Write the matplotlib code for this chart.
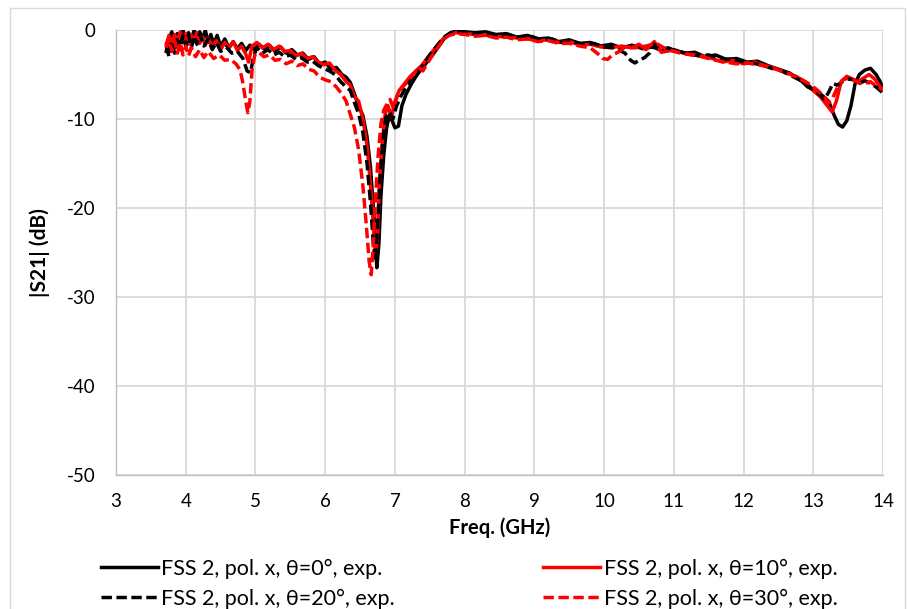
import matplotlib
matplotlib.use("Agg")
import matplotlib.pyplot as plt
from matplotlib.patches import Rectangle

plt.rcParams['font.family'] = ['Lato', 'DejaVu Sans']
plt.rcParams['axes.unicode_minus'] = False

# Measured transmission |S21| (dB) versus frequency (GHz)
freq_0 = [3.72, 3.76, 3.80, 3.84, 3.88, 3.92, 3.96, 4.00, 4.04, 4.08, 4.12, 4.16, 4.20, 4.24,
          4.28, 4.32, 4.36, 4.40, 4.45, 4.50, 4.56, 4.62, 4.68, 4.74, 4.80, 4.86, 4.92, 4.98,
          5.05, 5.12, 5.20, 5.28, 5.36, 5.44, 5.52, 5.60, 5.68, 5.76, 5.84, 5.92, 6.00, 6.08,
          6.16, 6.24, 6.30, 6.36, 6.42, 6.48, 6.54, 6.60, 6.65, 6.70, 6.74, 6.77, 6.80, 6.84,
          6.88, 6.92, 6.96, 7.00, 7.05, 7.10, 7.16, 7.24, 7.32, 7.40, 7.48, 7.56, 7.64, 7.72,
          7.80, 7.90, 8.00, 8.15, 8.30, 8.45, 8.60, 8.75, 8.90, 9.05, 9.20, 9.35, 9.50, 9.65,
          9.80, 9.95, 10.10, 10.25, 10.40, 10.55, 10.70, 10.85, 11.00, 11.15, 11.30, 11.45,
          11.60, 11.75, 11.90, 12.05, 12.20, 12.35, 12.50, 12.65, 12.80, 12.92, 13.02, 13.12,
          13.22, 13.30, 13.36, 13.42, 13.48, 13.54, 13.60, 13.66, 13.74, 13.82, 13.90, 13.96, 14.00]
s21_0 = [-2.4, -1.0, -0.2, -1.6, -0.4, -1.2, 0.0, -1.4, -0.3, -1.1, 0.0, -1.3, -0.2, -1.0,
         0.0, -1.4, -0.5, -1.6, -0.6, -1.8, -1.0, -2.0, -1.3, -2.1, -1.5, -2.3, -1.7, -2.2,
         -1.6, -2.1, -1.7, -2.4, -1.9, -2.6, -2.2, -2.8, -2.6, -3.3, -3.0, -3.8, -3.6, -4.4,
         -4.2, -5.0, -5.3, -5.9, -7.2, -8.6, -9.6, -12.0, -15.5, -21.0, -26.7, -24.0, -18.5, -14.0,
         -11.0, -9.6, -10.2, -11.0, -10.8, -8.5, -7.2, -6.0, -5.0, -4.2, -3.4, -2.6, -1.7, -0.8,
         -0.3, -0.1, -0.2, -0.3, -0.2, -0.5, -0.4, -0.8, -0.6, -1.0, -0.9, -1.3, -1.1, -1.5,
         -1.4, -1.8, -1.6, -2.0, -1.7, -2.1, -1.9, -2.4, -2.2, -2.6, -2.5, -3.0,
         -2.8, -3.3, -3.2, -3.6, -3.5, -4.0, -4.4, -4.8, -5.5, -6.4, -6.8, -7.3,
         -8.0, -9.6, -10.6, -10.9, -10.2, -8.5, -6.0, -5.0, -4.5, -4.3, -5.0, -5.8, -6.6]

freq_10 = [3.72, 3.76, 3.80, 3.84, 3.88, 3.92, 3.96, 4.00, 4.04, 4.08, 4.12, 4.16, 4.20, 4.24,
           4.28, 4.32, 4.38, 4.44, 4.50, 4.56, 4.62, 4.68, 4.74, 4.80, 4.86, 4.90, 4.95, 5.02,
           5.10, 5.18, 5.26, 5.34, 5.42, 5.50, 5.58, 5.66, 5.74, 5.82, 5.90, 5.98, 6.06, 6.14,
           6.22, 6.30, 6.36, 6.42, 6.48, 6.54, 6.60, 6.65, 6.69, 6.72, 6.75, 6.78, 6.82, 6.86,
           6.90, 6.95, 7.00, 7.06, 7.14, 7.22, 7.30, 7.38, 7.46, 7.54, 7.62, 7.70, 7.78, 7.88,
           8.00, 8.15, 8.30, 8.45, 8.60, 8.75, 8.90, 9.05, 9.20, 9.35, 9.50, 9.65, 9.80, 9.95,
           10.10, 10.25, 10.40, 10.50, 10.60, 10.72, 10.82, 10.95, 11.10, 11.25, 11.40, 11.55,
           11.70, 11.85, 12.00, 12.15, 12.30, 12.45, 12.60, 12.75, 12.90, 13.00, 13.10, 13.20,
           13.27, 13.33, 13.40, 13.48, 13.56, 13.64, 13.72, 13.80, 13.88, 13.95, 14.00]
s21_10 = [-1.6, -0.6, -1.8, -0.5, -1.4, -0.2, -1.1, -0.4, -1.6, -0.6, -1.2, -0.3, -1.5, -0.8,
          -1.7, -0.9, -1.9, -1.2, -2.2, -1.4, -2.0, -1.3, -2.3, -1.8, -2.7, -3.6, -1.8, -1.4,
          -2.0, -1.6, -2.2, -1.8, -2.4, -2.3, -2.9, -2.6, -3.2, -3.0, -3.6, -3.9, -3.7, -4.5,
          -5.0, -5.8, -6.2, -7.5, -8.0, -10.0, -13.0, -17.5, -22.0, -25.5, -23.0, -17.0, -12.5, -9.5,
          -8.5, -9.8, -8.0, -6.8, -6.0, -5.2, -4.6, -4.0, -3.2, -2.4, -1.6, -0.9, -0.5, -0.3,
          -0.4, -0.5, -0.6, -0.7, -0.8, -0.9, -1.0, -1.2, -1.1, -1.4, -1.3, -1.7, -1.6, -1.9,
          -2.0, -1.8, -2.0, -1.6, -2.2, -1.3, -2.5, -2.3, -2.5, -2.8, -2.9, -3.2,
          -3.6, -3.4, -3.8, -3.6, -4.0, -4.3, -4.8, -5.2, -5.9, -6.8, -7.5, -8.5,
          -9.2, -8.0, -5.8, -5.2, -5.5, -5.8, -5.4, -5.0, -5.5, -6.3, -6.7]

freq_20 = [3.72, 3.76, 3.80, 3.84, 3.88, 3.92, 3.96, 4.00, 4.04, 4.08, 4.12, 4.16, 4.20, 4.26,
           4.32, 4.38, 4.44, 4.50, 4.58, 4.66, 4.74, 4.82, 4.88, 4.93, 4.97, 5.02, 5.10, 5.18,
           5.26, 5.34, 5.42, 5.50, 5.58, 5.66, 5.74, 5.82, 5.90, 5.98, 6.06, 6.14, 6.22, 6.30,
           6.36, 6.42, 6.48, 6.54, 6.60, 6.65, 6.69, 6.72, 6.75, 6.79, 6.83, 6.87, 6.92, 6.97,
           7.02, 7.08, 7.16, 7.24, 7.32, 7.40, 7.48, 7.56, 7.64, 7.72, 7.80, 7.90, 8.05, 8.20,
           8.35, 8.50, 8.65, 8.80, 8.95, 9.10, 9.25, 9.40, 9.55, 9.70, 9.85, 10.00, 10.15, 10.30,
           10.38, 10.44, 10.50, 10.58, 10.65, 10.72, 10.80, 10.92, 11.05, 11.20, 11.35, 11.50,
           11.65, 11.80, 11.95, 12.10, 12.25, 12.40, 12.55, 12.70, 12.85, 12.98, 13.08, 13.16,
           13.22, 13.28, 13.34, 13.42, 13.50, 13.58, 13.66, 13.74, 13.82, 13.90, 13.96, 14.00]
s21_20 = [-1.8, -3.0, -1.2, -2.6, -0.8, -2.2, -0.6, -1.8, -0.5, -2.0, -0.7, -1.6, -0.4, -1.8,
          -1.0, -2.2, -1.4, -2.4, -1.9, -2.6, -2.4, -3.2, -4.6, -4.8, -3.0, -2.0, -2.6, -2.2,
          -2.8, -2.5, -3.0, -2.8, -3.3, -3.1, -3.6, -3.5, -4.0, -4.3, -4.6, -5.0, -5.8, -6.4,
          -6.8, -8.2, -9.4, -11.5, -15.0, -19.5, -24.0, -26.0, -22.0, -16.0, -12.0, -9.8, -9.2, -10.0,
          -8.6, -7.5, -6.4, -5.5, -4.8, -4.0, -3.0, -2.2, -1.4, -0.7, -0.3, -0.2, -0.3, -0.5,
          -0.4, -0.7, -0.6, -0.9, -0.7, -1.1, -1.0, -1.4, -1.3, -1.6, -1.5, -1.9, -2.0, -2.6,
          -3.4, -3.7, -3.4, -3.1, -2.6, -1.6, -2.2, -2.0, -2.4, -2.6, -2.9, -2.8,
          -3.2, -3.3, -3.5, -3.7, -3.9, -4.3, -4.6, -5.2, -5.8, -6.6, -7.2, -7.8,
          -7.0, -6.0, -6.2, -5.8, -5.5, -5.6, -6.0, -5.7, -6.0, -6.4, -6.8, -7.1]

freq_30 = [3.72, 3.76, 3.80, 3.84, 3.88, 3.92, 3.96, 4.00, 4.04, 4.08, 4.14, 4.20, 4.26, 4.32,
           4.40, 4.48, 4.56, 4.64, 4.72, 4.78, 4.82, 4.86, 4.89, 4.92, 4.95, 4.99, 5.05, 5.12,
           5.20, 5.28, 5.36, 5.44, 5.52, 5.60, 5.68, 5.76, 5.84, 5.92, 6.00, 6.08, 6.16, 6.24,
           6.30, 6.36, 6.42, 6.48, 6.54, 6.59, 6.63, 6.66, 6.69, 6.72, 6.76, 6.80, 6.84, 6.88,
           6.93, 6.98, 7.03, 7.10, 7.18, 7.26, 7.34, 7.40, 7.46, 7.54, 7.62, 7.70, 7.78, 7.88,
           8.00, 8.15, 8.30, 8.45, 8.60, 8.75, 8.90, 9.05, 9.20, 9.35, 9.50, 9.65, 9.80, 9.90,
           9.98, 10.05, 10.12, 10.20, 10.30, 10.45, 10.60, 10.75, 10.88, 11.00, 11.15, 11.30,
           11.45, 11.60, 11.75, 11.90, 12.05, 12.20, 12.35, 12.50, 12.65, 12.80, 12.95, 13.05,
           13.15, 13.22, 13.28, 13.35, 13.42, 13.50, 13.58, 13.66, 13.74, 13.82, 13.90, 13.96, 14.00]
s21_30 = [-2.0, -1.0, -2.4, -1.2, -2.6, -1.4, -2.8, -1.8, -2.9, -2.0, -3.0, -2.2, -3.1, -2.4,
          -3.2, -2.8, -3.4, -3.3, -3.8, -4.5, -6.0, -8.0, -9.3, -8.0, -4.5, -2.8, -2.5, -3.0,
          -2.8, -3.4, -3.3, -3.8, -3.5, -4.0, -3.8, -4.4, -4.6, -5.3, -5.6, -5.8, -6.4, -7.2,
          -8.0, -9.5, -11.0, -13.5, -17.5, -22.0, -26.0, -27.5, -24.0, -19.0, -14.0, -10.5, -9.0, -8.4,
          -7.8, -8.8, -7.5, -6.5, -5.8, -5.0, -4.2, -4.6, -3.8, -2.8, -1.9, -1.0, -0.6, -0.4,
          -0.5, -0.7, -0.6, -0.9, -0.8, -1.1, -1.0, -1.3, -1.2, -1.5, -1.5, -1.8, -2.0, -2.6,
          -3.2, -3.3, -2.8, -2.5, -1.9, -2.0, -1.8, -1.5, -2.1, -2.4, -2.7, -2.8,
          -3.1, -3.4, -3.6, -3.8, -3.7, -3.9, -4.1, -4.5, -4.9, -5.4, -6.1, -6.7,
          -7.4, -8.2, -7.6, -6.4, -5.6, -5.4, -5.6, -6.0, -6.0, -5.8, -6.3, -6.5, -6.8]

labels = ["FSS 2, pol. x, θ=0°, exp.", "FSS 2, pol. x, θ=10°, exp.",
          "FSS 2, pol. x, θ=20°, exp.", "FSS 2, pol. x, θ=30°, exp."]

x_ticks = list(range(3, 15))
y_ticks = [0, -10, -20, -30, -40, -50]

fig = plt.figure(figsize=(9.08, 6.09), dpi=100)
ax = fig.add_axes([0.1278, 0.22, 0.8447, 0.7307])

# light chart-area frame
fig.patches.append(Rectangle((10 / 908, -0.01), 895 / 908, 1 - 8 / 609 + 0.01,
                             transform=fig.transFigure, fill=False,
                             edgecolor='#d9d9d9', linewidth=1.0))

lw = 2.5
dash = (0, (3.0, 1.3))
l0, = ax.plot(freq_0, s21_0, color='black', lw=lw, solid_joinstyle='round', label=labels[0])
l1, = ax.plot(freq_10, s21_10, color='#ff0000', lw=lw, solid_joinstyle='round', label=labels[1])
l2, = ax.plot(freq_20, s21_20, color='black', lw=lw, linestyle=dash, label=labels[2])
l3, = ax.plot(freq_30, s21_30, color='#ff0000', lw=lw, linestyle=dash, label=labels[3])

ax.set_xlim(3, 14)
ax.set_ylim(-50, 0)
ax.set_xticks(x_ticks)
ax.set_yticks(y_ticks)
ax.grid(True, color='#d9d9d9', linewidth=1.3)
ax.set_axisbelow(True)
for side in ['top', 'right']:
    ax.spines[side].set_visible(False)
for side in ['left', 'bottom']:
    ax.spines[side].set_color('#bfbfbf')
    ax.spines[side].set_linewidth(1.0)
ax.tick_params(axis='both', length=0, labelsize=13.5, labelcolor='black')
ax.tick_params(axis='x', pad=13)
ax.tick_params(axis='y', pad=15)

ax.set_xlabel("Freq. (GHz)", fontsize=14.5, fontweight='bold', labelpad=5)
ax.set_ylabel("|S21| (dB)", fontsize=15, fontweight='bold', labelpad=12)

# legend rows: (0°, 10°) then (20°, 30°); matplotlib fills columns first
fig.legend(handles=[l0, l2, l1, l3], labels=[labels[0], labels[2], labels[1], labels[3]],
           ncol=2, loc='upper left', bbox_to_anchor=(90 / 908, 1 - 548 / 609),
           frameon=False, borderpad=0, fontsize=15.5, handlelength=2.65,
           handletextpad=0.15, columnspacing=6.9, labelspacing=0.45)

fig.savefig("out.png", dpi=100)
